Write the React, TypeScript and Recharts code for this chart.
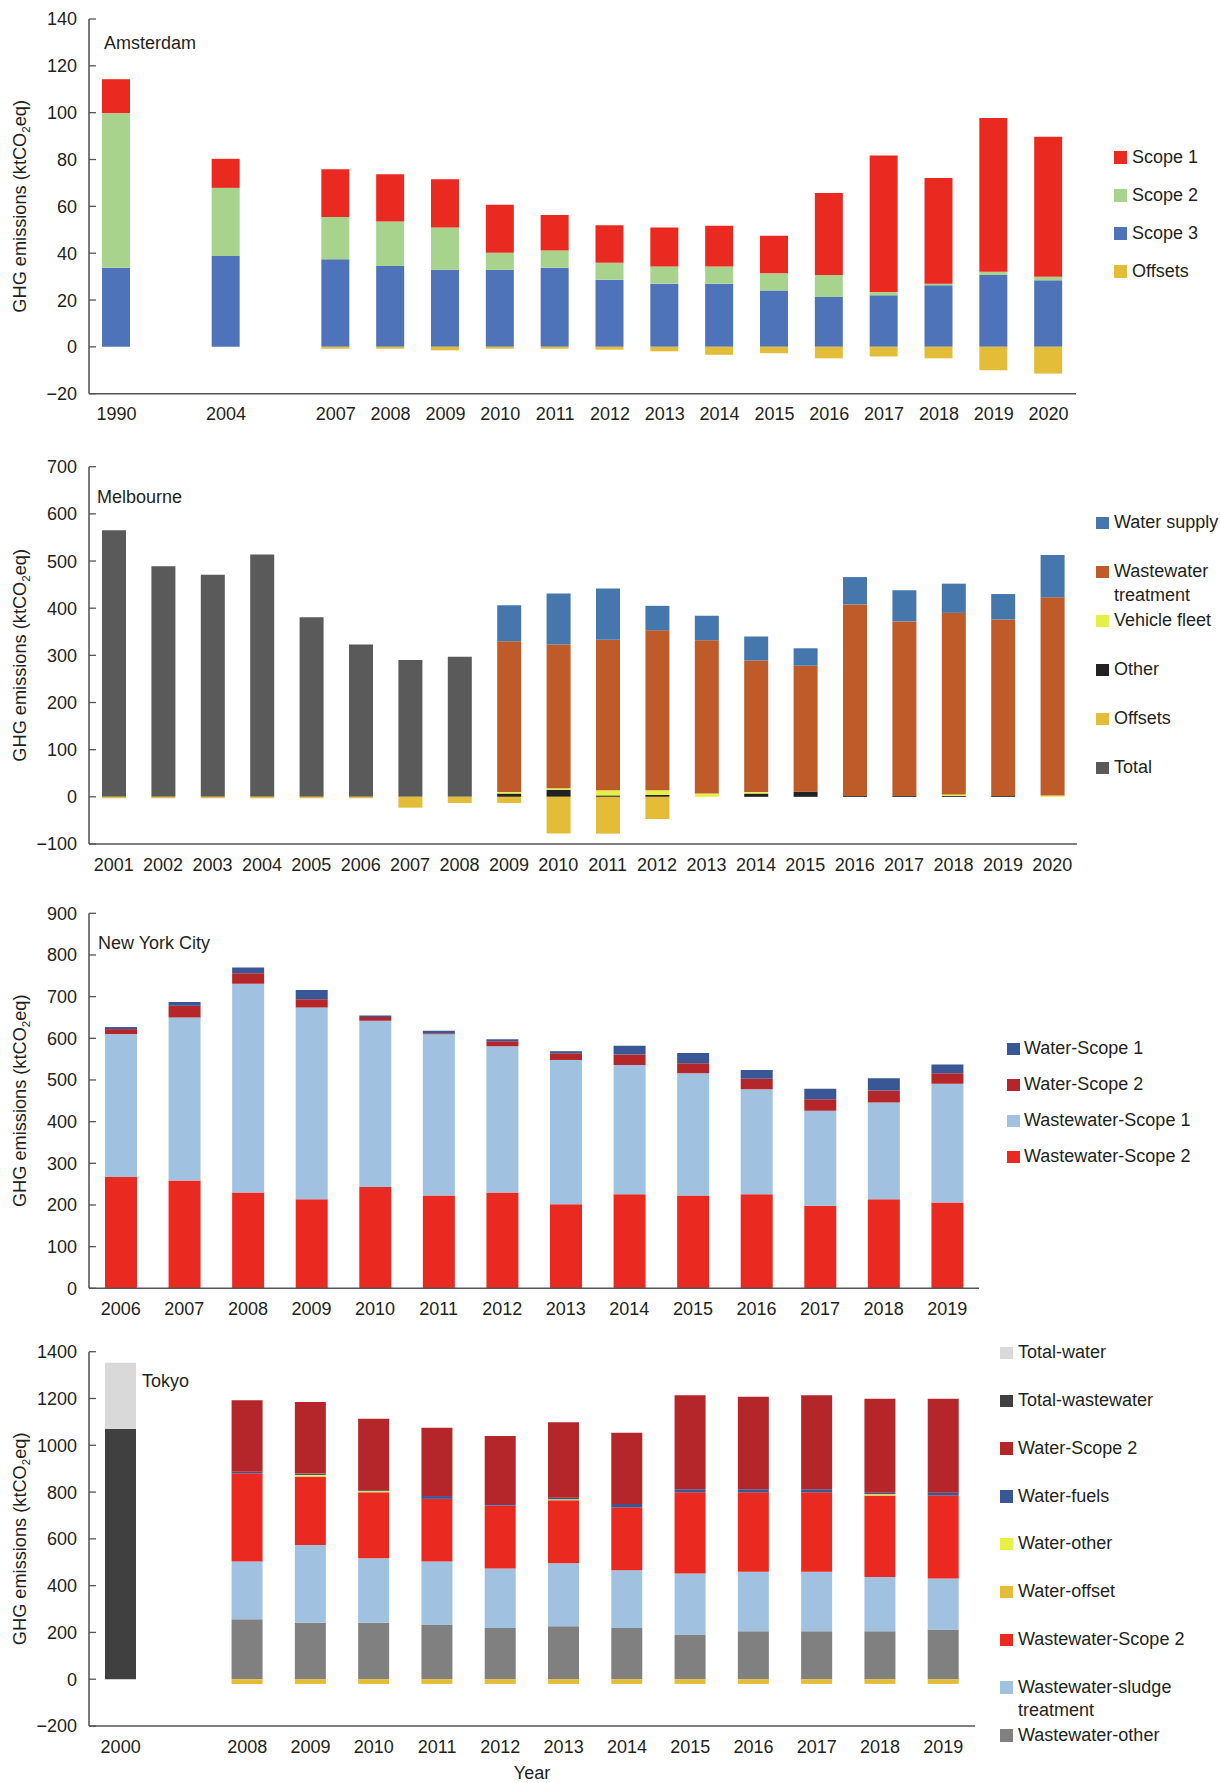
import React from 'react';
import { BarChart, Bar, XAxis, YAxis, Label } from 'recharts';

const FONT = '"Liberation Sans", Arial, Helvetica, sans-serif';
const INK = '#231f20';
const AXIS = '#555555';
const TICK_SIZE = 18;
const TEXT_SIZE = 18;

// ---- Amsterdam ----
const amsYears = ['1990', '', '2004', '', '2007', '2008', '2009', '2010', '2011', '2012', '2013', '2014', '2015', '2016', '2017', '2018', '2019', '2020'];
const amsScope1 = [14.5, null, 12.4, null, 20.3, 20.2, 20.6, 20.5, 15.2, 16.0, 16.7, 17.4, 16.0, 35.0, 58.3, 45.1, 65.6, 59.8];
const amsScope2 = [66.0, null, 29.1, null, 18.1, 19.0, 18.1, 7.3, 7.3, 7.2, 7.3, 7.3, 7.3, 9.4, 1.4, 0.7, 1.4, 1.5];
const amsScope3 = [33.8, null, 38.8, null, 37.4, 34.5, 32.9, 32.9, 33.8, 28.7, 27.0, 27.0, 24.1, 21.3, 22.0, 26.3, 30.7, 28.4];
const amsOffsets = [0, null, 0, null, -0.8, -0.8, -1.5, -0.8, -0.8, -1.2, -1.9, -3.4, -2.7, -4.9, -4.1, -4.9, -10.0, -11.4];
const amsTicks = [-20, 0, 20, 40, 60, 80, 100, 120, 140];

// ---- Melbourne ----
const melYears = ['2001', '2002', '2003', '2004', '2005', '2006', '2007', '2008', '2009', '2010', '2011', '2012', '2013', '2014', '2015', '2016', '2017', '2018', '2019', '2020'];
const melTotal = [565, 489, 471, 514, 381, 323, 290, 297, null, null, null, null, null, null, null, null, null, null, null, null];
const melOther = [null, null, null, null, null, null, null, null, 7, 15, 3, 4, 0, 7, 11, 2, 2, 2, 2, 0];
const melVehicle = [null, null, null, null, null, null, null, null, 3, 3, 11, 10, 7, 3, 0, 0, 0, 3, 0, 3];
const melWastewater = [null, null, null, null, null, null, null, null, 320, 305, 319, 339, 325, 279, 267, 406, 370, 385, 374, 420];
const melWater = [null, null, null, null, null, null, null, null, 76, 108, 109, 52, 52, 51, 37, 58, 66, 62, 54, 90];
const melOffsets = [-3, -3, -3, -3, -3, -3, -23, -13, -13, -78, -78, -47, 0, 0, 0, 0, 0, 0, 0, 0];
const melTicks = [-100, 0, 100, 200, 300, 400, 500, 600, 700];

// ---- New York City ----
const nycYears = ['2006', '2007', '2008', '2009', '2010', '2011', '2012', '2013', '2014', '2015', '2016', '2017', '2018', '2019'];
const nycWwScope2 = [267, 259, 230, 214, 243, 223, 230, 202, 226, 223, 226, 198, 214, 206];
const nycWwScope1 = [343, 391, 501, 460, 399, 387, 351, 346, 310, 293, 252, 228, 232, 285];
const nycWScope2 = [12, 28, 25, 20, 9, 2, 12, 16, 25, 24, 25, 28, 29, 25];
const nycWScope1 = [5, 9, 14, 22, 4, 6, 5, 5, 21, 25, 21, 25, 29, 21];
const nycTicks = [0, 100, 200, 300, 400, 500, 600, 700, 800, 900];

// ---- Tokyo ----
const tkyYears = ['2000', '', '2008', '2009', '2010', '2011', '2012', '2013', '2014', '2015', '2016', '2017', '2018', '2019'];
const tkyTotalWater = [283, null, null, null, null, null, null, null, null, null, null, null, null, null];
const tkyTotalWastewater = [1070, null, null, null, null, null, null, null, null, null, null, null, null, null];
const tkyWwOther = [null, null, 256, 241, 241, 234, 219, 226, 219, 191, 205, 205, 205, 212];
const tkyWwSludge = [null, null, 247, 333, 276, 269, 254, 270, 247, 261, 254, 254, 232, 218];
const tkyWwScope2 = [null, null, 377, 292, 282, 268, 271, 269, 269, 347, 340, 340, 348, 355];
const tkyWOther = [null, null, 0, 7, 5, 0, 0, 4, 0, 0, 0, 0, 6, 0];
const tkyWFuels = [null, null, 7, 6, 4, 12, 5, 7, 14, 13, 13, 13, 6, 12];
const tkyWScope2 = [null, null, 305, 306, 305, 292, 291, 322, 305, 402, 395, 402, 402, 402];
const tkyWOffset = [null, null, -20, -20, -20, -20, -20, -20, -20, -20, -20, -20, -20, -20];
const tkyTicks = [-200, 0, 200, 400, 600, 800, 1000, 1200, 1400];

type Series = { key: string; name: string; color: string; values: (number | null)[] };
type LegendItem = { name: string; color: string };

const fmtTick = (v: number) => (v < 0 ? '\u2212' + Math.abs(v) : String(v));

function YTick(props: any) {
  const { x, y, payload } = props;
  return (
    <g>
      <text x={x} y={y} dy="0.36em" textAnchor="end" fill={INK} fontSize={TICK_SIZE} fontFamily={FONT}>
        {fmtTick(payload.value)}
      </text>
      <line x1={x + 12} x2={x + 19} y1={y} y2={y} stroke={AXIS} strokeWidth={1.3} />
    </g>
  );
}

function YTitle({ cy }: { cy: number }) {
  const x = 26;
  return (
    <text x={x} y={cy} transform={`rotate(-90 ${x} ${cy})`} textAnchor="middle" fill={INK} fontSize={18.2} fontFamily={FONT}>
      GHG emissions (ktCO<tspan fontSize={11.5} dy={4}>2</tspan>
      <tspan dy={-4}>eq)</tspan>
    </text>
  );
}

interface PanelProps {
  top: number;
  height: number;
  plotTop: number;
  plotBottom: number;
  plotRight: number;
  years: string[];
  series: Series[];
  ticks: number[];
  barSize: number;
  legend: LegendItem[];
  legendX: number;
  legendTextX: number;
  legendY: number;
  legendStep: number;
  city: string;
  cityX: number;
  cityY: number;
  yearLabel?: boolean;
}

function Panel(p: PanelProps) {
  const xAxisHeight = p.yearLabel ? 52 : 30;
  const data = p.years.map((year, i) => {
    const row: Record<string, any> = { year };
    p.series.forEach((s) => {
      row[s.key] = s.values[i];
    });
    return row;
  });
  const margin = {
    top: p.plotTop - p.top,
    right: 1220 - p.plotRight,
    bottom: p.top + p.height - p.plotBottom - xAxisHeight,
    left: 0,
  };
  const cy = (p.plotTop + p.plotBottom) / 2 - p.top;
  return (
    <div style={{ position: 'absolute', left: 0, top: p.top, width: 1220, height: p.height }}>
      <BarChart width={1220} height={p.height} data={data} margin={margin} stackOffset="sign" style={{ fontFamily: FONT }}>
        <XAxis
          dataKey="year"
          interval={0}
          tickLine={false}
          tickSize={0}
          tickMargin={14}
          height={xAxisHeight}
          axisLine={{ stroke: AXIS, strokeWidth: 1.5 }}
          tick={{ fill: INK, fontSize: TICK_SIZE, fontFamily: FONT }}
        >
          {p.yearLabel && <Label value="Year" position="insideBottom" offset={-1} fill={INK} fontSize={TEXT_SIZE} fontFamily={FONT} />}
        </XAxis>
        <YAxis
          width={89}
          type="number"
          domain={[p.ticks[0], p.ticks[p.ticks.length - 1]]}
          ticks={p.ticks}
          interval={0}
          tickSize={0}
          tickMargin={12}
          tickLine={false}
          axisLine={{ stroke: '#333333', strokeWidth: 1.3 }}
          tick={<YTick />}
        >
          <Label content={() => <YTitle cy={cy} />} />
        </YAxis>
        {p.series.map((s) => (
          <Bar key={s.key} dataKey={s.key} name={s.name} stackId="a" fill={s.color} barSize={p.barSize} isAnimationActive={false} />
        ))}
      </BarChart>
      <div
        style={{
          position: 'absolute',
          left: p.cityX,
          top: p.cityY - p.top - 11,
          lineHeight: '22px',
          fontSize: TEXT_SIZE,
          fontFamily: FONT,
          color: INK,
          whiteSpace: 'nowrap',
        }}
      >
        {p.city}
      </div>
      {p.legend.map((item, i) => {
        const cyItem = p.legendY - p.top + i * p.legendStep;
        return (
          <div key={item.name} style={{ position: 'absolute', left: p.legendX, top: cyItem - 11.75 }}>
            <div style={{ position: 'absolute', left: 0, top: 5.5, width: 12.5, height: 12.5, background: item.color }} />
            <div
              style={{
                position: 'absolute',
                left: p.legendTextX - p.legendX,
                top: 0,
                fontSize: TEXT_SIZE,
                lineHeight: '23.5px',
                fontFamily: FONT,
                color: INK,
                whiteSpace: 'pre',
              }}
            >
              {item.name}
            </div>
          </div>
        );
      })}
    </div>
  );
}

const C = {
  red: '#ea2a21',
  green: '#a7d38d',
  blue: '#4e73b8',
  gold: '#e3bd37',
  waterBlue: '#4577ad',
  rust: '#bf5a29',
  lime: '#e5f046',
  black: '#222222',
  grey: '#5a5a5a',
  navy: '#3a5795',
  darkRed: '#b5262a',
  lightBlue: '#a0c2e0',
  lightGrey: '#d9d9d9',
  charcoal: '#404040',
  midGrey: '#808080',
};

export default function App() {
  const ams: Series[] = [
    { key: 'scope3', name: 'Scope 3', color: C.blue, values: amsScope3 },
    { key: 'scope2', name: 'Scope 2', color: C.green, values: amsScope2 },
    { key: 'scope1', name: 'Scope 1', color: C.red, values: amsScope1 },
    { key: 'offsets', name: 'Offsets', color: C.gold, values: amsOffsets },
  ];
  const mel: Series[] = [
    { key: 'total', name: 'Total', color: C.grey, values: melTotal },
    { key: 'other', name: 'Other', color: C.black, values: melOther },
    { key: 'vehicle', name: 'Vehicle fleet', color: C.lime, values: melVehicle },
    { key: 'wastewater', name: 'Wastewater treatment', color: C.rust, values: melWastewater },
    { key: 'water', name: 'Water supply', color: C.waterBlue, values: melWater },
    { key: 'offsets', name: 'Offsets', color: C.gold, values: melOffsets },
  ];
  const nyc: Series[] = [
    { key: 'ww2', name: 'Wastewater-Scope 2', color: C.red, values: nycWwScope2 },
    { key: 'ww1', name: 'Wastewater-Scope 1', color: C.lightBlue, values: nycWwScope1 },
    { key: 'w2', name: 'Water-Scope 2', color: C.darkRed, values: nycWScope2 },
    { key: 'w1', name: 'Water-Scope 1', color: C.navy, values: nycWScope1 },
  ];
  const tky: Series[] = [
    { key: 'tww', name: 'Total-wastewater', color: C.charcoal, values: tkyTotalWastewater },
    { key: 'tw', name: 'Total-water', color: C.lightGrey, values: tkyTotalWater },
    { key: 'wwOther', name: 'Wastewater-other', color: C.midGrey, values: tkyWwOther },
    { key: 'sludge', name: 'Wastewater-sludge treatment', color: C.lightBlue, values: tkyWwSludge },
    { key: 'ww2', name: 'Wastewater-Scope 2', color: C.red, values: tkyWwScope2 },
    { key: 'wOther', name: 'Water-other', color: C.lime, values: tkyWOther },
    { key: 'wFuels', name: 'Water-fuels', color: C.navy, values: tkyWFuels },
    { key: 'w2', name: 'Water-Scope 2', color: C.darkRed, values: tkyWScope2 },
    { key: 'wOffset', name: 'Water-offset', color: C.gold, values: tkyWOffset },
  ];

  return (
    <div style={{ position: 'absolute', left: 0, top: 0, width: 1220, height: 1783, background: '#ffffff' }}>
      <Panel
        top={0}
        height={440}
        plotTop={19}
        plotBottom={393.7}
        plotRight={1076}
        years={amsYears}
        series={ams}
        ticks={amsTicks}
        barSize={28}
        legend={[
          { name: 'Scope 1', color: C.red },
          { name: 'Scope 2', color: C.green },
          { name: 'Scope 3', color: C.blue },
          { name: 'Offsets', color: C.gold },
        ]}
        legendX={1114}
        legendTextX={1132}
        legendY={157.7}
        legendStep={38}
        city="Amsterdam"
        cityX={104}
        cityY={43}
      />
      <Panel
        top={440}
        height={440}
        plotTop={466.7}
        plotBottom={844}
        plotRight={1077}
        years={melYears}
        series={mel}
        ticks={melTicks}
        barSize={24}
        legend={[
          { name: 'Water supply', color: C.waterBlue },
          { name: 'Wastewater\ntreatment', color: C.rust },
          { name: 'Vehicle fleet', color: C.lime },
          { name: 'Other', color: C.black },
          { name: 'Offsets', color: C.gold },
          { name: 'Total', color: C.grey },
        ]}
        legendX={1096}
        legendTextX={1114}
        legendY={523}
        legendStep={49}
        city="Melbourne"
        cityX={97}
        cityY={497}
      />
      <Panel
        top={890}
        height={430}
        plotTop={913.3}
        plotBottom={1288.3}
        plotRight={979}
        years={nycYears}
        series={nyc}
        ticks={nycTicks}
        barSize={32}
        legend={[
          { name: 'Water-Scope 1', color: C.navy },
          { name: 'Water-Scope 2', color: C.darkRed },
          { name: 'Wastewater-Scope 1', color: C.lightBlue },
          { name: 'Wastewater-Scope 2', color: C.red },
        ]}
        legendX={1007}
        legendTextX={1024}
        legendY={1049}
        legendStep={36}
        city="New York City"
        cityX={98}
        cityY={943}
      />
      <Panel
        top={1320}
        height={463}
        plotTop={1351.7}
        plotBottom={1726}
        plotRight={975}
        years={tkyYears}
        series={tky}
        ticks={tkyTicks}
        barSize={31}
        legend={[
          { name: 'Total-water', color: C.lightGrey },
          { name: 'Total-wastewater', color: C.charcoal },
          { name: 'Water-Scope 2', color: C.darkRed },
          { name: 'Water-fuels', color: C.navy },
          { name: 'Water-other', color: C.lime },
          { name: 'Water-offset', color: C.gold },
          { name: 'Wastewater-Scope 2', color: C.red },
          { name: 'Wastewater-sludge\ntreatment', color: C.lightBlue },
          { name: 'Wastewater-other', color: C.midGrey },
        ]}
        legendX={1000}
        legendTextX={1018}
        legendY={1353}
        legendStep={47.8}
        city="Tokyo"
        cityX={142}
        cityY={1381}
        yearLabel
      />
    </div>
  );
}
